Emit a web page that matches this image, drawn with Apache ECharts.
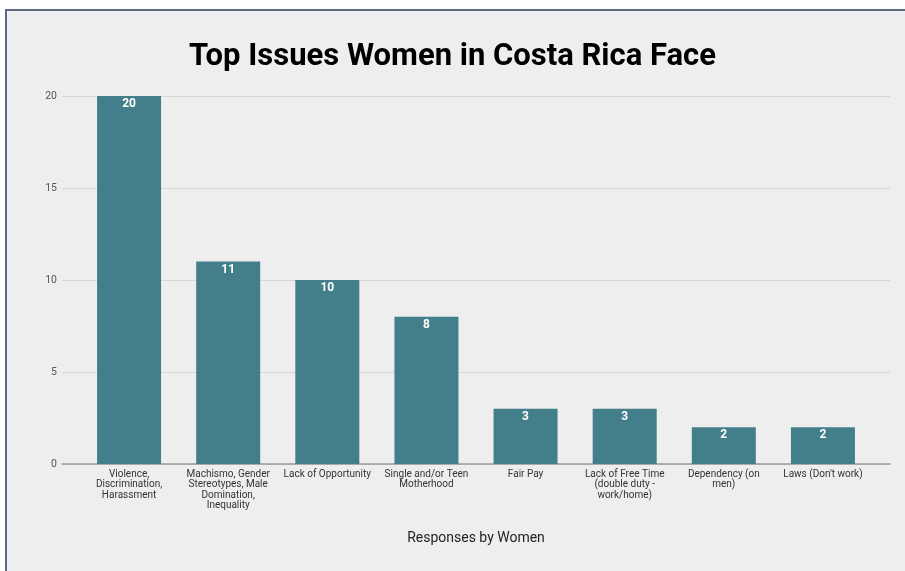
<!DOCTYPE html>
<html><head><meta charset="utf-8">
<script src="https://cdn.jsdelivr.net/npm/echarts@6/dist/echarts.min.js"></script>
<style>
html,body{margin:0;padding:0;background:#fff;}
#wrap{position:absolute;left:0;top:0;width:905px;height:571px;background:#fff;}
#chart{position:absolute;left:0;top:0;width:905px;height:571px;}
#bt{position:absolute;left:5px;top:9px;width:900px;height:2px;background:#5b6b82;}
#bl{position:absolute;left:5px;top:9px;width:2px;height:562px;background:#5b6b82;}
#wt{position:absolute;left:0;top:0;width:905px;height:9px;background:#fff;}
#wl{position:absolute;left:0;top:0;width:5px;height:571px;background:#fff;}
</style></head>
<body>
<div id="wrap"><div id="chart"></div><div id="wt"></div><div id="wl"></div><div id="bt"></div><div id="bl"></div></div>
<script>
const categories = [
  "Violence,\nDiscrimination,\nHarassment",
  "Machismo, Gender\nStereotypes, Male\nDomination,\nInequality",
  "Lack of Opportunity",
  "Single and/or Teen\nMotherhood",
  "Fair Pay",
  "Lack of Free Time\n(double duty -\nwork/home)",
  "Dependency (on\nmen)",
  "Laws (Don't work)"
];
const values = [20, 11, 10, 8, 3, 3, 2, 2];
const yTicks = [0, 5, 10, 15, 20];

const chart = echarts.init(document.getElementById('chart'));
const font = 'Roboto, "Noto Sans", sans-serif';
chart.setOption({
  backgroundColor: '#eeeeee',
  animation: false,
  title: {
    text: 'Top Issues Women in Costa Rica Face',
    left: 'center', top: 37,
    textStyle: {fontFamily: font, fontWeight: 'bold', fontSize: 31, color: '#000'}
  },
  grid: [
    {left: 62, right: 15, top: 96, bottom: 107},
    {left: 79.5, right: 32.5, top: 96, bottom: 107}
  ],
  xAxis: [
    {gridIndex: 0, type: 'category', data: categories, axisTick: {show: false},
     axisLabel: {show: false}, axisLine: {lineStyle: {color: '#9a9a9a', width: 1.5}},
     name: 'Responses by Women', nameLocation: 'middle', nameGap: 67,
     nameTextStyle: {fontFamily: font, fontSize: 14, color: '#222'}},
    {gridIndex: 1, type: 'category', data: categories, axisTick: {show: false},
     axisLine: {show: false},
     axisLabel: {interval: 0, fontFamily: font, fontSize: 10, color: '#333', lineHeight: 10.5, margin: 5}}
  ],
  yAxis: [
    {gridIndex: 0, type: 'value', min: 0, max: 20, interval: 5,
     axisLabel: {fontFamily: font, fontSize: 10.5, color: '#555', margin: 5,
       formatter: v => yTicks.includes(v) ? String(v) : ''},
     splitLine: {lineStyle: {color: '#d6d6d6', width: 1}},
     axisLine: {show: false}, axisTick: {show: false}},
    {gridIndex: 1, type: 'value', min: 0, max: 20, interval: 5, show: false}
  ],
  series: [{
    type: 'bar', xAxisIndex: 1, yAxisIndex: 1, data: values, barWidth: 64,
    itemStyle: {color: '#437e8b'},
    label: {show: true, position: 'insideTop', distance: 2, color: '#fff',
      fontFamily: font, fontWeight: 'bold', fontSize: 12}
  }]
});
</script>
</body></html>
